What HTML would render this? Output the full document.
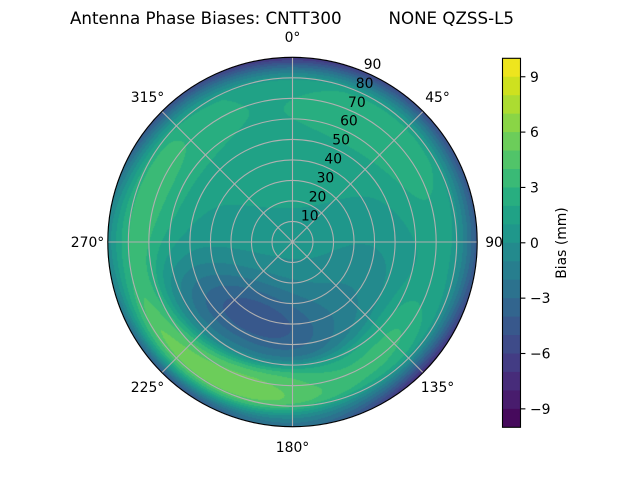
<!DOCTYPE html>
<html><head><meta charset="utf-8">
<style>
html,body{margin:0;padding:0;background:#fff;}
#w{position:relative;width:640px;height:480px;overflow:hidden;background:#fff;}
canvas,svg{position:absolute;left:0;top:0;}
text{font-family:"DejaVu Sans","Liberation Sans",sans-serif;fill:#000;}
</style></head><body><div id="w">
<svg width="640" height="480"><circle cx="292.5" cy="242" r="184.7" fill="#1f978b"/></svg>
<canvas id="c" width="640" height="480"></canvas>
<svg width="640" height="480">
<g fill="none" stroke="#b0b0b0" stroke-width="1.1">
<circle cx="292.5" cy="242" r="20.52"/><circle cx="292.5" cy="242" r="41.04"/><circle cx="292.5" cy="242" r="61.57"/><circle cx="292.5" cy="242" r="82.09"/><circle cx="292.5" cy="242" r="102.61"/><circle cx="292.5" cy="242" r="123.13"/><circle cx="292.5" cy="242" r="143.66"/><circle cx="292.5" cy="242" r="164.18"/>
<line x1="292.5" y1="242" x2="292.5" y2="57.3"/><line x1="292.5" y1="242" x2="423.1" y2="111.4"/><line x1="292.5" y1="242" x2="477.2" y2="242"/><line x1="292.5" y1="242" x2="423.1" y2="372.6"/><line x1="292.5" y1="242" x2="292.5" y2="426.7"/><line x1="292.5" y1="242" x2="161.9" y2="372.6"/><line x1="292.5" y1="242" x2="107.8" y2="242"/><line x1="292.5" y1="242" x2="161.9" y2="111.4"/>
</g>
<circle cx="292.5" cy="242" r="184.7" fill="none" stroke="#000" stroke-width="1.1"/>
<g font-size="13.9">
<text x="300.9" y="220.5">10</text><text x="308.7" y="201.6">20</text><text x="316.6" y="182.6">30</text><text x="324.4" y="163.7">40</text><text x="332.3" y="144.7">50</text><text x="340.1" y="125.7">60</text><text x="348.0" y="106.8">70</text><text x="355.8" y="87.8">80</text><text x="363.7" y="68.9">90</text>
</g>
<g font-size="13.9" text-anchor="middle">
<text x="292.5" y="42">0°</text><text x="437.5" y="102">45°</text><text x="497.5" y="247">90°</text><text x="437.5" y="392">135°</text><text x="292.5" y="452">180°</text><text x="147.5" y="392">225°</text><text x="87.5" y="247">270°</text><text x="147.5" y="102">315°</text>
</g>
<g id="cb">
<rect x="502.5" y="58.3" width="18" height="18.95" fill="#eee51e"/>
<rect x="502.5" y="76.75" width="18" height="18.95" fill="#cee11f"/>
<rect x="502.5" y="95.2" width="18" height="18.95" fill="#acdc31"/>
<rect x="502.5" y="113.65" width="18" height="18.95" fill="#8ad546"/>
<rect x="502.5" y="132.1" width="18" height="18.95" fill="#6ccd5a"/>
<rect x="502.5" y="150.55" width="18" height="18.95" fill="#51c469"/>
<rect x="502.5" y="169.0" width="18" height="18.95" fill="#3aba76"/>
<rect x="502.5" y="187.45" width="18" height="18.95" fill="#28ae80"/>
<rect x="502.5" y="205.9" width="18" height="18.95" fill="#20a286"/>
<rect x="502.5" y="224.35" width="18" height="18.95" fill="#1f978b"/>
<rect x="502.5" y="242.8" width="18" height="18.95" fill="#238a8d"/>
<rect x="502.5" y="261.25" width="18" height="18.95" fill="#277e8e"/>
<rect x="502.5" y="279.7" width="18" height="18.95" fill="#2c728e"/>
<rect x="502.5" y="298.15" width="18" height="18.95" fill="#32658e"/>
<rect x="502.5" y="316.6" width="18" height="18.95" fill="#38588c"/>
<rect x="502.5" y="335.05" width="18" height="18.95" fill="#3e4b89"/>
<rect x="502.5" y="353.5" width="18" height="18.95" fill="#433c84"/>
<rect x="502.5" y="371.95" width="18" height="18.95" fill="#472c7a"/>
<rect x="502.5" y="390.4" width="18" height="18.95" fill="#481c6d"/>
<rect x="502.5" y="408.85" width="18" height="18.45" fill="#460a5c"/>
</g>
<rect x="502.5" y="58.3" width="18" height="369" fill="none" stroke="#000" stroke-width="1.1"/>
<g stroke="#000" stroke-width="1.1">
<line x1="520.5" y1="76.75" x2="525.4" y2="76.75"/><line x1="520.5" y1="132.1" x2="525.4" y2="132.1"/><line x1="520.5" y1="187.45" x2="525.4" y2="187.45"/><line x1="520.5" y1="242.8" x2="525.4" y2="242.8"/><line x1="520.5" y1="298.15" x2="525.4" y2="298.15"/><line x1="520.5" y1="353.5" x2="525.4" y2="353.5"/><line x1="520.5" y1="408.85" x2="525.4" y2="408.85"/>
</g>
<g font-size="13.9">
<text x="530" y="81.8">9</text><text x="530" y="137.1">6</text><text x="530" y="192.5">3</text><text x="530" y="247.8">0</text><text x="530" y="303.2">−3</text><text x="530" y="358.5">−6</text><text x="530" y="413.9">−9</text>
</g>
<text font-size="13.9" text-anchor="middle" transform="translate(566,243) rotate(-90)">Bias (mm)</text>
<text x="70" y="24" font-size="16.67" textLength="271.6" lengthAdjust="spacingAndGlyphs">Antenna Phase Biases: CNTT300</text>
<text x="388.5" y="24" font-size="16.67" textLength="125.5" lengthAdjust="spacingAndGlyphs">NONE QZSS-L5</text>
</svg>
</div>
<script>
(function(){
var H=["#460a5c","#481c6d","#472c7a","#433c84","#3e4b89","#38588c","#32658e","#2c728e","#277e8e","#238a8d","#1f978b","#20a286","#28ae80","#3aba76","#51c469","#6ccd5a","#8ad546","#acdc31","#cee11f","#eee51e"];
var pal=H.map(function(h){return [parseInt(h.substr(1,2),16),parseInt(h.substr(3,2),16),parseInt(h.substr(5,2),16)];});
var cv=document.getElementById('c'),ctx=cv.getContext('2d');
var CX=292.5,CY=242,R=184.7,D2R=Math.PI/180;
var img=ctx.createImageData(640,480),d=img.data;
function ad(a,b){return ((a-b)%360+540)%360-180;}
function GP(az,z,a0,sa,z0,sz){var q=ad(az,a0)/sa,p=(z-z0)/sz;return Math.exp(-0.5*(q*q+p*p));}
function GP4(az,z,a0,sa,z0,sz){var q=ad(az,a0)/sa,p=(z-z0)/sz;return Math.exp(-0.5*(q*q+p*p*p*p));}
function GC(x,y,a0,z0,sr,st){var s=Math.sin(a0*D2R),c=Math.cos(a0*D2R);var dx=x-z0*s,dy=y-z0*c;var r=(dx*s+dy*c)/sr,t=(dx*c-dy*s)/st;return Math.exp(-0.5*(r*r+t*t));}
var DA=[8.5,6.8,5.3,8,3.3,6.2,2.5,7];
function Dr(az){var u=(((az%360)+360)%360)/45;var i=Math.floor(u)%8,f=u-Math.floor(u);var w=(1-Math.cos(Math.PI*f))/2;return DA[i]*(1-w)+DA[(i+1)%8]*w;}
function F(x,y){
 var z=Math.sqrt(x*x+y*y);var az=Math.atan2(x,y)/D2R;if(az<0)az+=360;
 var v=0.6;
 v+=1.1*GC(x,y,0,55,28,60);
 v-=2.2*GC(x,y,195,35,16,40);
 v-=3.4*GC(x,y,207,43,12,28);
 v-=1.0*GC(x,y,120,35,15,20);
 v+=1.5*GP(az,z,50,30,68,10);
 v+=0.4*GP(az,z,305,18,68,10);
 var z0=71+0.1*Math.max(-30,Math.min(70,ad(az,180)));
 v+=4.9*GP4(az,z,195,32,z0,10);
 v+=1.5*GP(az,z,145,18,70,9);
 v+=1.6*GP(az,z,130,15,64,9);
 v+=2.4*GP(az,z,280,30,74,13);
 v+=2.0*GP(az,z,238,20,78,8);
 var q=Math.max(0,(z-77)/13);v-=Dr(az)*Math.pow(q,1.4);
 return v;}
for(var py=54;py<432;py++){for(var px=105;px<480;px++){
 var dx=px+0.5-CX,dy=py+0.5-CY;var dd=Math.sqrt(dx*dx+dy*dy);if(dd>R)continue;
 var x=dx/R*90,y=-dy/R*90;var v=F(x,y);var i=Math.floor(v)+10;if(i<0)i=0;if(i>19)i=19;
 var k=(py*640+px)*4;d[k]=pal[i][0];d[k+1]=pal[i][1];d[k+2]=pal[i][2];d[k+3]=255;}}
ctx.putImageData(img,0,0);
})();
</script>
</body></html>
